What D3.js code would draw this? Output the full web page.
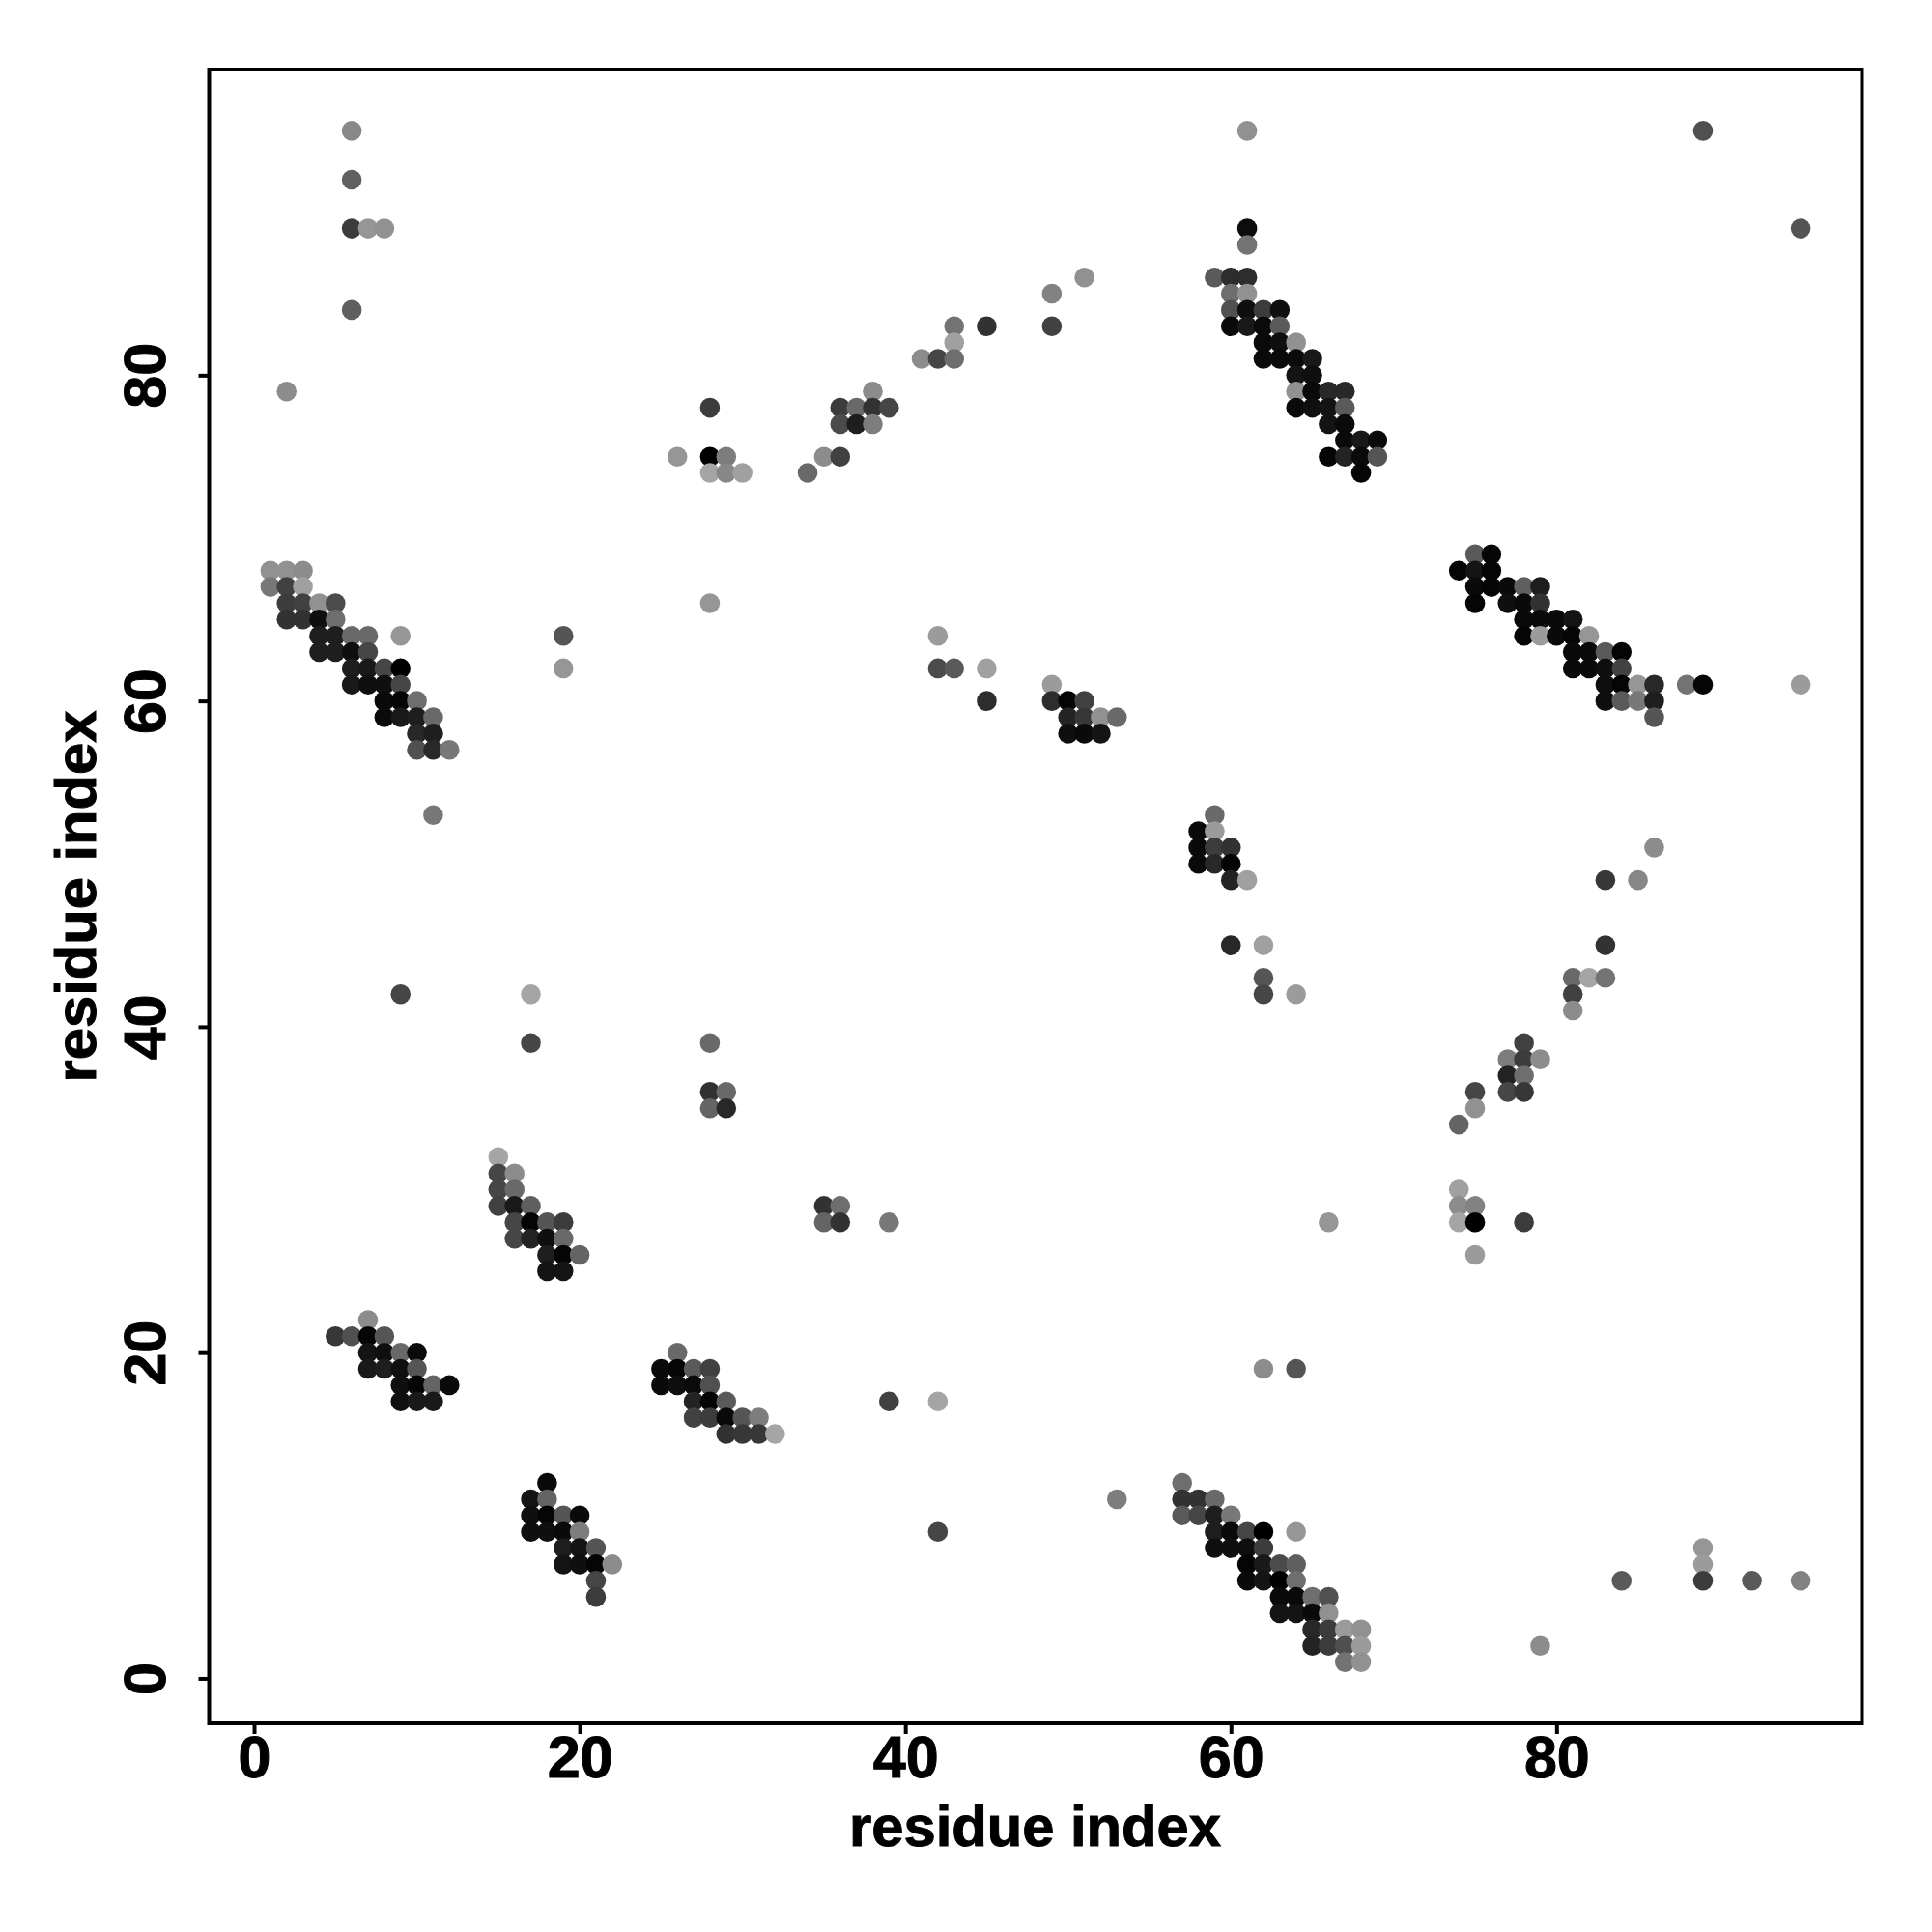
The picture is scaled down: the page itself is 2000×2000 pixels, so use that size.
<!DOCTYPE html>
<html>
<head>
<meta charset="utf-8">
<script src="https://cdn.jsdelivr.net/npm/d3@7/dist/d3.min.js"></script>
<style>
html,body{margin:0;padding:0;background:#fff}
svg{display:block}
text{font-family:"Liberation Sans",Arial,sans-serif;font-weight:700;fill:#000}
</style>
</head>
<body>
<svg id="chart" width="2000" height="2000"></svg>
<script>
const axisLabel = "residue index";
const tickValues = [0, 20, 40, 60, 80];
const axisDomain = [-2.76, 98.76];

const rowY = [95,92,89,88,86,85,84,83,82,81,80,79,78,77,76,75,74,69,68,67,66,65,64,63,62,61,60,59,58,57,53,52,51,50,49,45,43,42,41,39,38,37,36,35,34,32,31,30,29,28,27,26,25,22,21,20,19,18,17,16,15,12,11,10,9,8,7,6,5,4,3,2,1];
const rowX = [
[6,61,89],[6],[6,7,8,61,95],[61],[51,59,60,61],[49,60,61],[6,60,61,62,63],[43,45,49,60,61,62,63],[43,62,63,64],[41,42,43,62,63,64,65],
[64,65],[2,38,64,65,66,67],[28,36,37,38,39,64,65,66,67],[36,37,38,66,67],[67,68,69],[26,28,29,35,36,66,67,68,69],[28,29,30,34,68],
[75,76],[1,2,3,74,75,76],[1,2,3,75,76,77,78,79],[2,3,4,5,28,75,77,78,79],[2,3,4,5,78,79,80,81],[4,5,6,7,9,19,42,78,79,80,81,82],
[4,5,6,7,81,82,83,84],[6,7,8,9,19,42,43,45,81,82,83,84],[6,7,8,9,49,83,84,85,86,88,89,95],[8,9,10,45,49,50,51,83,84,85,86],
[8,9,10,11,50,51,52,53,86],[10,11,50,51,52],[10,11,12],[11,59],[58,59],[58,59,60,86],[58,59,60],[60,61,83,85],[60,62,83],
[62,81,82,83],[9,17,62,64,81],[81],[17,28,78],[77,78,79],[77,78],[28,29,75,77,78],[28,29,75],[74],[15],[15,16],[15,16,74],
[15,16,17,35,36,74,75],[16,17,18,19,35,36,39,66,74,75,78],[16,17,18,19],[18,19,20,75],[18,19],[7],[5,6,7,8],[7,8,9,10,26],
[7,8,9,10,25,26,27,28,62,64],[9,10,11,12,25,26,27,28],[9,10,11,27,28,29,39,42],[27,28,29,30,31],[29,30,31,32],[18,57],
[17,18,53,57,58,59],[17,18,19,20,57,58,59,60],[17,18,19,20,42,59,60,61,62,64],[19,20,21,59,60,61,62,89],[19,20,21,22,61,62,63,64,89],
[21,61,62,63,64,84,89,92,95],[21,63,64,65,66],[63,64,65,66],[65,66,67,68],[65,66,67,68,79],[67,68]
];
const rowShade = [
[136,145,80],[96],[60,150,145,12,85],[115],[145,90,45,45],[130,110,145],[95,80,15,60,15],[115,50,65,10,25,10,90],[160,10,15,145],[140,70,110,10,10,10,25],
[20,15],[140,140,145,10,40,40],[60,60,105,50,70,10,15,20,90],[75,30,125,20,10],[10,25,10],[150,0,125,140,65,5,35,10,85],[165,135,160,105,5],
[90,5],[145,145,140,5,20,5],[120,65,160,10,5,10,95,30],[60,65,145,75,150,5,15,10,50],[50,50,15,110,10,10,10,20],[30,30,105,105,150,85,155,5,155,10,5,150],
[30,30,15,70,10,10,90,5],[30,25,70,0,150,75,90,160,10,10,15,65],[25,15,15,70,155,15,5,150,40,115,5,155],[10,5,110,45,45,5,65,15,90,120,30],
[10,25,30,105,35,55,145,105,85],[40,30,15,10,20],[80,40,120],[120,105],[10,155],[10,60,50,140],[10,40,5],[35,160,55,135],[40,160,50],
[85,105,165,115],[70,165,70,155,65],[140],[70,105,65],[125,60,140],[35,110],[50,105,70,70,55],[100,40,145],[100],[165],[70,140],[70,105,160],
[65,25,95,50,110,140,130],[70,5,85,60,100,50,120,150,165,0,60],[70,35,15,105],[30,5,100,155],[20,20],[140],[55,80,5,85],[20,15,105,10,105],
[25,30,15,85,10,5,90,65,140,85],[15,5,100,10,10,15,10,80],[15,25,25,35,5,90,65,165],[65,60,10,85,125],[50,55,55,165],[10,110],
[20,100,125,50,50,105],[15,5,85,10,90,70,30,120],[15,15,10,125,70,30,10,70,0,150],[30,20,85,15,15,15,60,150],[20,15,5,140,5,25,75,95,155],
[70,10,20,0,110,90,60,90,130],[60,10,10,110,80],[20,20,10,145],[40,60,155,145],[35,60,80,155,140],[115,145]
];

const contacts = rowY.flatMap((y, i) => rowX[i].map((x, j) => ({x, y, shade: rowShade[i][j]})));

const frame = {left: 216.5, right: 1927.5, top: 72, bottom: 1784};
const sx = d3.scaleLinear().domain(axisDomain).range([frame.left, frame.right]);
const sy = d3.scaleLinear().domain(axisDomain).range([frame.bottom, frame.top]);

const svg = d3.select("#chart");

svg.append("g").selectAll("circle").data(contacts).join("circle")
  .attr("cx", d => sx(d.x))
  .attr("cy", d => sy(d.y))
  .attr("r", 10.3)
  .attr("fill", d => d3.rgb(d.shade, d.shade, d.shade));

svg.append("rect")
  .attr("x", frame.left).attr("y", frame.top)
  .attr("width", frame.right - frame.left).attr("height", frame.bottom - frame.top)
  .attr("fill", "none").attr("stroke", "#000").attr("stroke-width", 4);

const xAxis = svg.append("g").attr("transform", `translate(0,${frame.bottom})`)
  .call(d3.axisBottom(sx).tickValues(tickValues).tickSize(11).tickPadding(0).tickFormat(d3.format("d")));
const yAxis = svg.append("g").attr("transform", `translate(${frame.left},0)`)
  .call(d3.axisLeft(sy).tickValues(tickValues).tickSize(11).tickPadding(0).tickFormat(d3.format("d")));

[xAxis, yAxis].forEach(g => {
  g.select(".domain").remove();
  g.selectAll(".tick line").attr("stroke", "#000").attr("stroke-width", 4);
  g.selectAll("text").attr("font-size", 61).attr("font-family", '"Liberation Sans"').attr("font-weight", 700).attr("fill", "#000")
    .attr("stroke", "#000").attr("stroke-width", 1);
});
xAxis.selectAll("text").attr("dy", null).attr("y", 1840 - frame.bottom).attr("text-anchor", "middle").attr("dx", 0);
yAxis.selectAll("text").attr("dy", null).attr("x", null).attr("y", null)
  .attr("text-anchor", "middle")
  .attr("transform", `translate(${171 - frame.left},0) rotate(-90)`);

svg.append("text").attr("x", (frame.left + frame.right) / 2 - 0.5).attr("y", 1911)
  .attr("text-anchor", "middle").attr("font-size", 59.7).attr("stroke", "#000").attr("stroke-width", 1).text(axisLabel);
svg.append("text").attr("text-anchor", "middle").attr("font-size", 59.7).attr("stroke", "#000").attr("stroke-width", 1)
  .attr("transform", `translate(99,${(frame.top + frame.bottom) / 2}) rotate(-90)`).text(axisLabel);
</script>
</body>
</html>
